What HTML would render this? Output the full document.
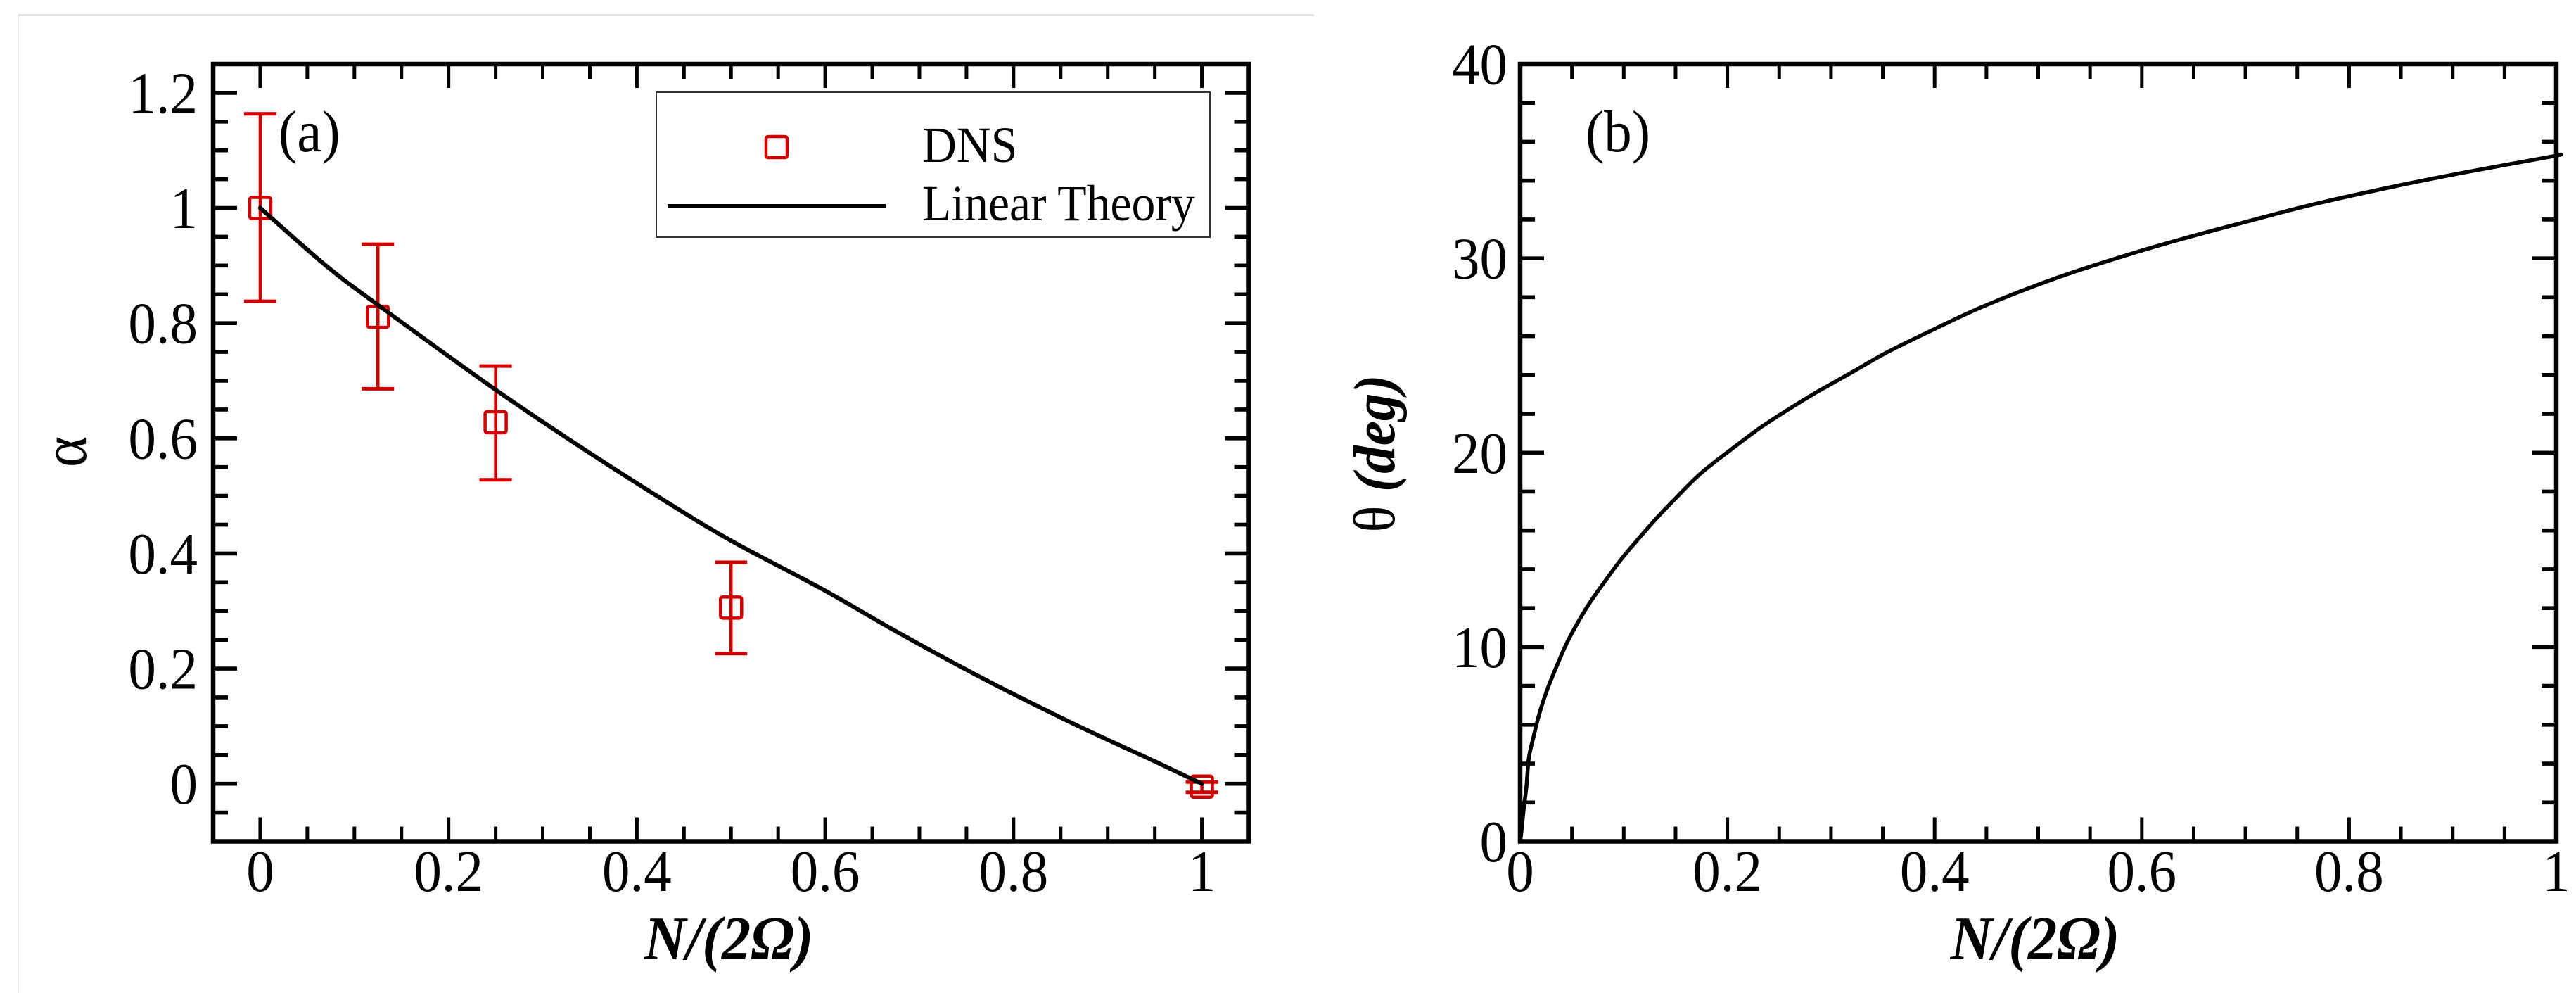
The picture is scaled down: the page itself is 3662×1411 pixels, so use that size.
<!DOCTYPE html>
<html lang="en">
<head>
<meta charset="utf-8">
<title>Alpha and theta versus N/(2Omega)</title>
<style>
html,body{margin:0;padding:0;background:#fff;}
svg{display:block;}
text{font-family:"Liberation Serif","DejaVu Serif",serif;fill:#000;}
</style>
</head>
<body>
<svg id="figure" xmlns="http://www.w3.org/2000/svg" width="3662" height="1411" viewBox="0 0 3662 1411">
  <rect x="0" y="0" width="3662" height="1411" fill="#fff"/>
  <line x1="26" y1="21.5" x2="1868" y2="21.5" stroke="#cfcfcf" stroke-width="2"/>
  <line x1="26" y1="21" x2="26" y2="1411" stroke="#ececec" stroke-width="2"/>
  <g id="panel-a"></g>
  <g id="panel-b"></g>
</svg>
<script>
// Panel (a) data
const aXTicks = [0, 0.2, 0.4, 0.6, 0.8, 1];
const aYTicks = [0, 0.2, 0.4, 0.6, 0.8, 1, 1.2];
const aXTickLabels = ['0', '0.2', '0.4', '0.6', '0.8', '1'];
const aYTickLabels = ['0', '0.2', '0.4', '0.6', '0.8', '1', '1.2'];
const dnsX = [0, 0.125, 0.25, 0.5, 1];
const dnsY = [1.0, 0.811, 0.628, 0.306, -0.005];
const dnsUpper = [1.1635, 0.937, 0.7255, 0.3846, 0.003];
const dnsLower = [0.838, 0.686, 0.528, 0.226, -0.0147];
const theoryX = [0, 0.0698, 0.1247, 0.2494, 0.334, 0.4212, 0.4997, 0.5957, 0.6829, 0.77, 0.8573, 0.9045, 0.9492, 1];
const theoryY = [1.0, 0.9, 0.832, 0.685, 0.5916, 0.5, 0.4225, 0.339, 0.2576, 0.1807, 0.1093, 0.073, 0.0395, 0];

// Panel (b) data
const bXTicks = [0, 0.2, 0.4, 0.6, 0.8, 1];
const bYTicks = [0, 10, 20, 30, 40];
const bXTickLabels = ['0', '0.2', '0.4', '0.6', '0.8', '1'];
const bYTickLabels = ['0', '10', '20', '30', '40'];
const thetaX = [0, 0.0011, 0.0034, 0.0061, 0.0084, 0.0129, 0.0186, 0.0265, 0.0367, 0.0468, 0.0627, 0.0764, 0.0966, 0.1147, 0.1329, 0.1464, 0.1736, 0.2052, 0.2324, 0.2641, 0.2867, 0.3206, 0.3546, 0.3998, 0.4474, 0.5175, 0.5832, 0.6375, 0.7054, 0.7665, 0.8434, 0.9113, 0.9973, 1];
const thetaY = [0, 0.42, 1.63, 2.84, 4.29, 5.37, 6.58, 7.85, 9.2, 10.39, 11.9, 12.98, 14.45, 15.6, 16.7, 17.45, 18.9, 20.23, 21.31, 22.4, 23.13, 24.15, 25.18, 26.36, 27.54, 28.99, 30.13, 30.98, 31.95, 32.79, 33.7, 34.42, 35.26, 35.32];

const NS = 'http://www.w3.org/2000/svg';
const SQUEEZE = 0.94;

function make(parent, tag, name, attrs) {
  const el = document.createElementNS(NS, tag);
  
  
  for (const k in attrs) el.setAttribute(k, attrs[k]);
  parent.appendChild(el);
  return el;
}

function seg(parent, name, x1, y1, x2, y2, color, width) {
  return make(parent, 'line', name, { x1: x1, y1: y1, x2: x2, y2: y2, stroke: color, 'stroke-width': width });
}

function label(parent, name, str, x, y, size, anchor, opts) {
  const o = opts || {};
  const rot = o.rotate ? ' rotate(' + o.rotate + ')' : '';
  const el = make(parent, 'text', name, {
    transform: 'translate(' + x + ',' + y + ')' + rot + ' scale(' + SQUEEZE + ',1)',
    'font-size': size,
    'text-anchor': anchor
  });
  if (o.bold) el.setAttribute('font-weight', 'bold');
  if (o.italic) el.setAttribute('font-style', 'italic');
  el.textContent = str;
  return el;
}

function drawFrame(g, box, sx, sy, xMajor, yMajor, xLabels, yLabels, xMinorStep, yMinorStep, cfg) {
  const MAJOR = 34, MINOR = 21;
  const xN = Math.round((xMajor[xMajor.length - 1] - xMajor[0]) / xMinorStep);
  for (let i = 0; i <= xN; i++) {
    const v = xMajor[0] + i * xMinorStep;
    const isMajor = xMajor.some(function (m) { return Math.abs(m - v) < 1e-6; });
    const len = isMajor ? MAJOR : MINOR;
    const px = sx(v);
    if (Math.abs(px - box.left) < 2 || Math.abs(px - box.right) < 2) continue;
    seg(g, isMajor ? 'x-major-tick-bottom' : 'x-minor-tick-bottom', px, box.bottom, px, box.bottom - len, '#000', 5);
    seg(g, isMajor ? 'x-major-tick-top' : 'x-minor-tick-top', px, box.top, px, box.top + len, '#000', 5);
  }
  const yStart = Math.ceil((cfg.yMin - 1e-9) / yMinorStep);
  const yEnd = Math.floor((cfg.yMax + 1e-9) / yMinorStep);
  for (let i = yStart; i <= yEnd; i++) {
    const v = i * yMinorStep;
    const isMajor = yMajor.some(function (m) { return Math.abs(m - v) < 1e-6; });
    const len = isMajor ? MAJOR : MINOR;
    const py = sy(v);
    if (Math.abs(py - box.top) < 2 || Math.abs(py - box.bottom) < 2) continue;
    seg(g, isMajor ? 'y-major-tick-left' : 'y-minor-tick-left', box.left, py, box.left + len, py, '#000', 5.6);
    seg(g, isMajor ? 'y-major-tick-right' : 'y-minor-tick-right', box.right, py, box.right - len, py, '#000', 5.6);
  }
  make(g, 'rect', 'plot-frame', {
    x: box.left, y: box.top, width: box.right - box.left, height: box.bottom - box.top,
    fill: 'none', stroke: '#000', 'stroke-width': 6.5
  });
  xMajor.forEach(function (v, i) {
    label(g, 'x-tick-label', xLabels[i], sx(v), cfg.xLabelY, 84, 'middle');
  });
  yMajor.forEach(function (v, i) {
    label(g, 'y-tick-label', yLabels[i], cfg.yLabelX, sy(v) + 28.5, 84, 'end');
  });
}

// Smooth curve (Catmull-Rom through the read values)
function curve(g, name, xs, ys, sx, sy, width) {
  const P = xs.map(function (v, i) { return [sx(v), sy(ys[i])]; });
  let d = 'M' + P[0][0].toFixed(1) + ',' + P[0][1].toFixed(1);
  for (let i = 0; i < P.length - 1; i++) {
    const p0 = P[Math.max(i - 1, 0)], p1 = P[i], p2 = P[i + 1], p3 = P[Math.min(i + 2, P.length - 1)];
    const c1x = p1[0] + (p2[0] - p0[0]) / 6, c1y = p1[1] + (p2[1] - p0[1]) / 6;
    const c2x = p2[0] - (p3[0] - p1[0]) / 6, c2y = p2[1] - (p3[1] - p1[1]) / 6;
    d += 'C' + c1x.toFixed(1) + ',' + c1y.toFixed(1) + ' ' + c2x.toFixed(1) + ',' + c2y.toFixed(1) + ' ' + p2[0].toFixed(1) + ',' + p2[1].toFixed(1);
  }
  return make(g, 'path', name, {
    d: d, fill: 'none', stroke: '#000', 'stroke-width': width,
    'stroke-linejoin': 'round', 'stroke-linecap': 'round'
  });
}

// ---------- Panel (a) ----------
(function () {
  const g = document.getElementById('panel-a');
  const box = { left: 303, right: 1775.5, top: 91, bottom: 1195.5 };
  const xMin = -0.05, xMax = 1.05, yMin = -0.1, yMax = 1.25;
  const sx = function (v) { return box.left + (v - xMin) / (xMax - xMin) * (box.right - box.left); };
  const sy = function (v) { return box.bottom - (v - yMin) / (yMax - yMin) * (box.bottom - box.top); };
  drawFrame(g, box, sx, sy, aXTicks, aYTicks, aXTickLabels, aYTickLabels, 0.05, 0.05,
    { yMin: yMin, yMax: yMax, xLabelY: 1266, yLabelX: 281 });

  dnsX.forEach(function (v, i) {
    const px = sx(v);
    seg(g, 'dns-error-bar', px, sy(dnsUpper[i]), px, sy(dnsLower[i]), '#d00000', 4.5);
    seg(g, 'dns-error-cap-upper', px - 23, sy(dnsUpper[i]), px + 23, sy(dnsUpper[i]), '#d00000', 5);
    seg(g, 'dns-error-cap-lower', px - 23, sy(dnsLower[i]), px + 23, sy(dnsLower[i]), '#d00000', 5);
    make(g, 'rect', 'dns-point', {
      x: px - 15, y: sy(dnsY[i]) - 15, width: 30, height: 30, rx: 3,
      fill: 'none', stroke: '#d00000', 'stroke-width': 4.5
    });
  });
  curve(g, 'linear-theory-line', theoryX, theoryY, sx, sy, 6);

  const legend = make(g, 'g', 'legend', {});
  make(legend, 'rect', 'legend-box', { x: 933, y: 131, width: 787, height: 206, fill: 'none', stroke: '#333', 'stroke-width': 2 });
  make(legend, 'rect', 'legend-dns-marker', { x: 1089, y: 194, width: 30, height: 30, rx: 3, fill: 'none', stroke: '#d00000', 'stroke-width': 4.5 });
  seg(legend, 'legend-theory-line', 949, 293, 1259, 293, '#000', 6);
  label(legend, 'legend-dns-label', 'DNS', 1311, 230, 72, 'start');
  label(legend, 'legend-theory-label', 'Linear Theory', 1311, 313, 72, 'start');

  label(g, 'panel-a-label', '(a)', 396, 215, 84, 'start');
  label(g, 'x-axis-title-a', 'N/(2\u03A9)', 1036, 1363, 88, 'middle', { bold: true, italic: true });
  label(g, 'y-axis-title-alpha', '\u03B1', 122, 642, 90, 'middle', { rotate: -90 });
})();

// ---------- Panel (b) ----------
(function () {
  const g = document.getElementById('panel-b');
  const box = { left: 2161, right: 3634, top: 91, bottom: 1195.5 };
  const xMin = 0, xMax = 1, yMin = 0, yMax = 40;
  const sx = function (v) { return box.left + (v - xMin) / (xMax - xMin) * (box.right - box.left); };
  const sy = function (v) { return box.bottom - (v - yMin) / (yMax - yMin) * (box.bottom - box.top); };
  drawFrame(g, box, sx, sy, bXTicks, bYTicks, bXTickLabels, bYTickLabels, 0.05, 2,
    { yMin: yMin, yMax: yMax, xLabelY: 1266, yLabelX: 2143 });
  curve(g, 'theta-curve', thetaX, thetaY, sx, sy, 5.5);

  label(g, 'panel-b-label', '(b)', 2254, 215, 84, 'start');
  label(g, 'x-axis-title-b', 'N/(2\u03A9)', 2893, 1363, 88, 'middle', { bold: true, italic: true });

  const title = label(g, 'y-axis-title-theta', '', 1982, 644.5, 84, 'middle', { rotate: -90 });
  const thetaGlyph = make(title, 'tspan', 'y-axis-title-theta-symbol', {});
  thetaGlyph.textContent = '\u03B8 ';
  const degText = make(title, 'tspan', 'y-axis-title-theta-unit', { 'font-weight': 'bold', 'font-style': 'italic' });
  degText.textContent = '(deg)';
})();
</script>
</body>
</html>
